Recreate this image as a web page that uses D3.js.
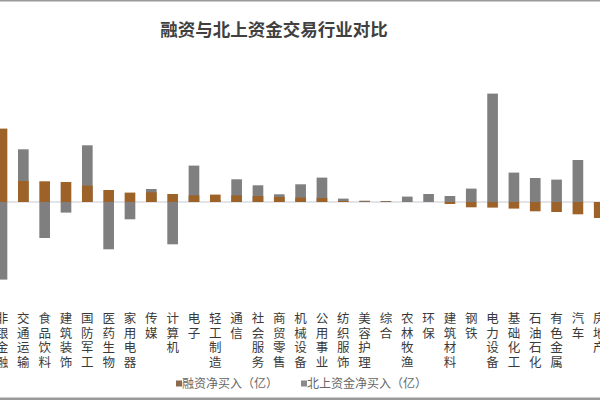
<!DOCTYPE html>
<html>
<head>
<meta charset="utf-8">
<script src="https://cdn.jsdelivr.net/npm/d3@7"></script>
<style>
  body { margin: 0; background: #fff; }
  svg { display: block; font-family: "Noto Sans CJK SC", sans-serif; }
</style>
</head>
<body>
<svg width="600" height="400"></svg>
<script>
// 行业
const categories = ["非银金融", "交通运输", "食品饮料", "建筑装饰", "国防军工", "医药生物", "家用电器", "传媒", "计算机", "电子",
    "轻工制造", "通信", "社会服务", "商贸零售", "机械设备", "公用事业", "纺织服饰", "美容护理", "综合", "农林牧渔",
    "环保", "建筑材料", "钢铁", "电力设备", "基础化工", "石油石化", "有色金属", "汽车", "房地产"];

// 融资净买入（亿）
const rzValues = [73.4, 21, 20.7, 20, 16.4, 12, 9.4, 9.7, 8, 6.7,
    7.4, 6.7, 6, 5, 4.4, 4, 1, 0.5, 0.5, 0,
    0, -2, -5.3, -5.6, -6.6, -9.3, -10, -12.3, -16];

// 北上资金净买入（亿）
const bsValues = [-77.6, 52.7, -36, -10.6, 56.7, -47.3, -17.3, 13, -42.3, 36.4,
    2, 22.7, 16.7, 7.7, 17.7, 24.4, 3.4, 1.3, 1, 5.4,
    8, 6, 13.4, 108.4, 29.4, 24, 22.4, 42, -5];

const legendNames = ["融资净买入（亿）", "北上资金净买入（亿）"];
const colors = ["#9d6228", "#7f7f7f"];

const svg = d3.select("svg");

// 图片边框
svg.append("rect").attr("x", 0).attr("y", 0).attr("width", 600).attr("height", 1.5).attr("fill", "#9a9a9a");
svg.append("rect").attr("x", 0).attr("y", 397.5).attr("width", 600).attr("height", 2.5).attr("fill", "#9a9a9a");

const x = d3.scaleBand()
    .domain(categories)
    .range([-8.67, 609.9])
    .paddingInner(0.5)
    .paddingOuter(0.25);

const y = d3.scaleLinear()
    .domain([-100, 120])
    .range([302, 82]);

svg.append("text")
    .attr("x", 274)
    .attr("y", 36)
    .attr("text-anchor", "middle")
    .attr("font-size", 17.5)
    .attr("font-weight", "bold")
    .attr("fill", "#404040")
    .text("融资与北上资金交易行业对比");

// 零线
svg.append("line")
    .attr("x1", 0).attr("x2", 600)
    .attr("y1", y(0)).attr("y2", y(0))
    .attr("stroke", "#d9dbe0")
    .attr("stroke-width", 1.5);

const series = [bsValues, rzValues];
const seriesColor = [colors[1], colors[0]];

series.forEach((vals, si) => {
    svg.append("g").selectAll("rect")
        .data(vals)
        .join("rect")
        .attr("x", (d, i) => x(categories[i]))
        .attr("width", x.bandwidth())
        .attr("y", d => y(Math.max(0, d)))
        .attr("height", d => Math.abs(y(d) - y(0)))
        .attr("fill", seriesColor[si]);
});

// 竖排类目标签
const labels = svg.append("g")
    .attr("font-size", 12.5)
    .attr("fill", "#3a3a3a")
    .attr("text-anchor", "middle");

categories.forEach(c => {
    const t = labels.append("text")
        .attr("x", x(c) + x.bandwidth() / 2)
        .attr("y", 323);
    Array.from(c).forEach((ch, k) => {
        t.append("tspan")
            .attr("x", x(c) + x.bandwidth() / 2)
            .attr("dy", k === 0 ? 0 : 14.7)
            .text(ch);
    });
});

// 图例
const legendX = [176, 301];
legendNames.forEach((name, i) => {
    svg.append("rect")
        .attr("x", legendX[i])
        .attr("y", 380.5)
        .attr("width", 6)
        .attr("height", 6)
        .attr("fill", i === 0 ? "#8c6a4f" : "#8a8a8a");
    svg.append("text")
        .attr("x", legendX[i] + 6)
        .attr("y", 388)
        .attr("font-size", 12)
        .attr("fill", "#666")
        .text(name);
});
</script>
</body>
</html>
